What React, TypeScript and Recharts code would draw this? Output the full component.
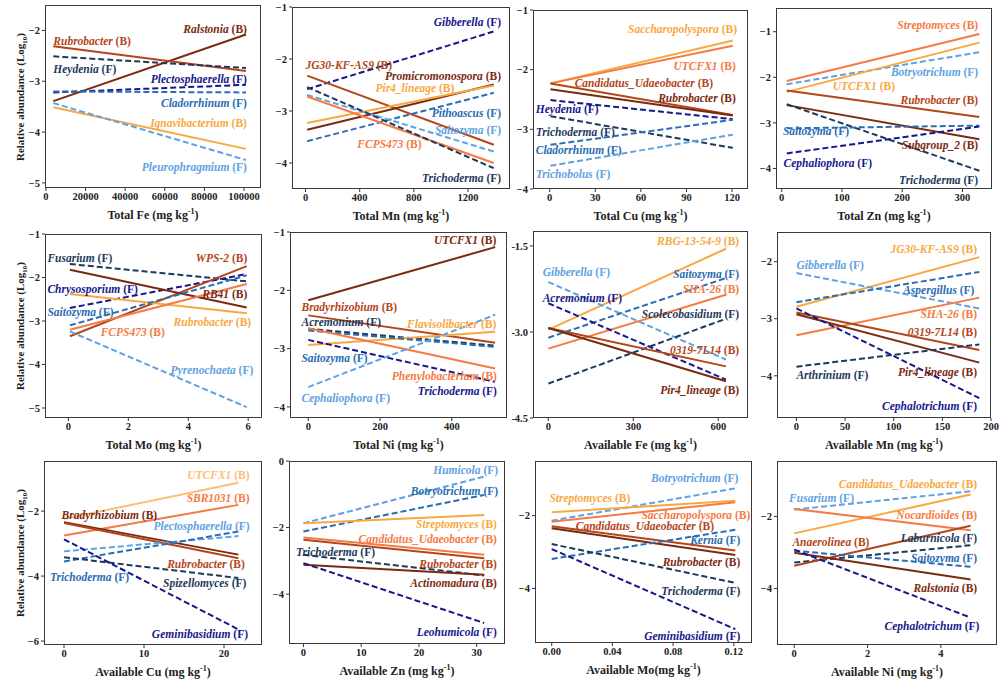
import React from "react";
import { LineChart, Line, XAxis, YAxis, ReferenceDot } from "recharts";

type Fit = { taxon: string; group: "B" | "F"; start: number; end: number };
// label anchor in data units: [x, y, text-anchor]
type Tag = [number, number, "start" | "end"];

const FONT = "'Liberation Serif', 'Times New Roman', serif";

const C: Record<string, string> = {
  brown: "#7a2a10",
  rust: "#b3461b",
  orange: "#f47b45",
  gold: "#f9a83f",
  peach: "#fcbf78",
  navy: "#18188c",
  slate: "#1d3a5c",
  blue: "#2a6db3",
  sky: "#5fa2e2",
};

// ---------- Total Fe ----------
const FE_X = [3700, 101000];
const FE_FITS: Fit[] = [
  { taxon: "Ralstonia", group: "B", start: -3.39, end: -2.08 },
  { taxon: "Rubrobacter", group: "B", start: -2.31, end: -2.8 },
  { taxon: "Heydenia", group: "F", start: -2.51, end: -2.74 },
  { taxon: "Plectosphaerella", group: "F", start: -3.22, end: -3.07 },
  { taxon: "Cladorrhinum", group: "F", start: -3.2, end: -3.22 },
  { taxon: "Ignavibacterium", group: "B", start: -3.51, end: -4.33 },
  { taxon: "Pleurophragmium", group: "F", start: -3.43, end: -4.55 },
];
const FE_TONES = ["brown", "rust", "slate", "navy", "blue", "gold", "sky"];
const FE_TAGS: Tag[] = [
  [101500, -1.98, "end"], [3700, -2.21, "start"], [3700, -2.76, "start"],
  [101500, -2.95, "end"], [101500, -3.43, "end"], [101500, -3.82, "end"], [101500, -4.68, "end"],
];

// ---------- Total Mn ----------
const MN_X = [12, 1390];
const MN_FITS: Fit[] = [
  { taxon: "Gibberella", group: "F", start: -2.58, end: -1.47 },
  { taxon: "JG30-KF-AS9", group: "B", start: -2.32, end: -3.65 },
  { taxon: "Promicromonospora", group: "B", start: -3.36, end: -2.49 },
  { taxon: "Pir4_lineage", group: "B", start: -3.23, end: -2.51 },
  { taxon: "Pithoascus", group: "F", start: -3.58, end: -2.65 },
  { taxon: "Saitozyma", group: "F", start: -2.69, end: -3.78 },
  { taxon: "FCPS473", group: "B", start: -2.72, end: -4.0 },
  { taxon: "Trichoderma", group: "F", start: -2.54, end: -4.1 },
];
const MN_TONES = ["navy", "rust", "brown", "gold", "blue", "sky", "orange", "slate"];
const MN_TAGS: Tag[] = [
  [1444, -1.29, "end"], [0, -2.11, "start"], [1444, -2.32, "end"], [1099, -2.56, "end"],
  [1444, -3.04, "end"], [1444, -3.36, "end"], [857, -3.63, "end"], [1444, -4.29, "end"],
];

// ---------- Total Cu ----------
const CU_X = [0.5, 120.5];
const CU_FITS: Fit[] = [
  { taxon: "Saccharopolyspora", group: "B", start: -2.23, end: -1.51 },
  { taxon: "UTCFX1", group: "B", start: -2.23, end: -1.6 },
  { taxon: "Candidatus_Udaeobacter", group: "B", start: -2.23, end: -2.76 },
  { taxon: "Rubrobacter", group: "B", start: -2.33, end: -2.77 },
  { taxon: "Heydenia", group: "F", start: -2.51, end: -2.83 },
  { taxon: "Trichoderma", group: "F", start: -2.78, end: -3.31 },
  { taxon: "Cladorrhinum", group: "F", start: -3.26, end: -2.84 },
  { taxon: "Trichobolus", group: "F", start: -3.61, end: -3.09 },
];
const CU_TONES = ["gold", "orange", "rust", "brown", "navy", "slate", "blue", "sky"];
const CU_TAGS: Tag[] = [
  [123.3, -1.32, "end"], [122.5, -1.94, "end"], [107.5, -2.22, "end"], [122.5, -2.48, "end"],
  [-9.2, -2.66, "start"], [-9.2, -3.04, "start"], [-9.2, -3.34, "start"], [-9.2, -3.74, "start"],
];

// ---------- Total Zn ----------
const ZN_X = [8.3, 328];
const ZN_FITS: Fit[] = [
  { taxon: "Streptomyces", group: "B", start: -2.08, end: -1.05 },
  { taxon: "Botryotrichum", group: "F", start: -2.15, end: -1.45 },
  { taxon: "UTCFX1", group: "B", start: -2.32, end: -1.24 },
  { taxon: "Rubrobacter", group: "B", start: -2.29, end: -2.87 },
  { taxon: "Subgroup_2", group: "B", start: -2.61, end: -3.36 },
  { taxon: "Trichoderma", group: "F", start: -2.59, end: -4.05 },
  { taxon: "Saitozyma", group: "F", start: -3.12, end: -3.06 },
  { taxon: "Cephaliophora", group: "F", start: -3.67, end: -3.08 },
];
const ZN_TONES = ["orange", "sky", "gold", "rust", "brown", "slate", "blue", "navy"];
const ZN_TAGS: Tag[] = [
  [326, -0.85, "end"], [326, -1.89, "end"], [188, -2.19, "end"], [326, -2.5, "end"],
  [326, -3.49, "end"], [326, -4.26, "end"], [2, -3.18, "start"], [3, -3.89, "start"],
];

// ---------- Total Mo ----------
const MO_X = [0.05, 5.95];
const MO_FITS: Fit[] = [
  { taxon: "Fusarium", group: "F", start: -1.69, end: -2.09 },
  { taxon: "Chrysosporium", group: "F", start: -2.7, end: -1.92 },
  { taxon: "WPS-2", group: "B", start: -3.35, end: -1.74 },
  { taxon: "RB41", group: "B", start: -1.82, end: -2.69 },
  { taxon: "Rubrobacter", group: "B", start: -2.38, end: -2.82 },
  { taxon: "Saitozyma", group: "F", start: -3.1, end: -1.95 },
  { taxon: "FCPS473", group: "B", start: -3.2, end: -2.15 },
  { taxon: "Pyrenochaeta", group: "F", start: -3.24, end: -4.98 },
];
const MO_TONES = ["slate", "navy", "rust", "brown", "gold", "blue", "orange", "sky"];
const MO_TAGS: Tag[] = [
  [-0.7, -1.55, "start"], [-0.7, -2.26, "start"], [5.97, -1.55, "end"], [5.97, -2.38, "end"],
  [6.1, -3.02, "end"], [-0.7, -2.79, "start"], [3.22, -3.25, "end"], [6.17, -4.12, "end"],
];

// ---------- Total Ni ----------
const NI_X = [0, 521];
const NI_FITS: Fit[] = [
  { taxon: "UTCFX1", group: "B", start: -2.17, end: -1.26 },
  { taxon: "Bradyrhizobium", group: "B", start: -2.43, end: -2.9 },
  { taxon: "Acremonium", group: "F", start: -2.66, end: -2.95 },
  { taxon: "Flavisolibacter", group: "B", start: -2.94, end: -2.71 },
  { taxon: "Saitozyma", group: "F", start: -2.69, end: -2.97 },
  { taxon: "Phenylobacterium", group: "B", start: -2.65, end: -3.34 },
  { taxon: "Trichoderma", group: "F", start: -2.85, end: -3.57 },
  { taxon: "Cephaliophora", group: "F", start: -3.66, end: -2.42 },
];
const NI_TONES = ["brown", "rust", "slate", "gold", "blue", "orange", "navy", "sky"];
const NI_TAGS: Tag[] = [
  [524, -1.14, "end"], [-19, -2.29, "start"], [-19, -2.55, "start"], [524, -2.58, "end"],
  [-19, -3.16, "start"], [526, -3.47, "end"], [526, -3.73, "end"], [-19, -3.85, "start"],
];

// ---------- Available Fe ----------
const AFE_X = [0, 627];
const AFE_FITS: Fit[] = [
  { taxon: "RBG-13-54-9", group: "B", start: -2.96, end: -1.55 },
  { taxon: "Gibberella", group: "F", start: -2.13, end: -3.48 },
  { taxon: "Saitozyma", group: "F", start: -3.1, end: -2.06 },
  { taxon: "SHA-26", group: "B", start: -3.29, end: -2.35 },
  { taxon: "Acremonium", group: "F", start: -2.5, end: -3.83 },
  { taxon: "Scolecobasidium", group: "F", start: -3.9, end: -2.77 },
  { taxon: "0319-7L14", group: "B", start: -2.93, end: -3.6 },
  { taxon: "Pir4_lineage", group: "B", start: -2.93, end: -3.86 },
];
const AFE_TONES = ["gold", "sky", "blue", "orange", "navy", "slate", "rust", "brown"];
const AFE_TAGS: Tag[] = [
  [674, -1.41, "end"], [-20, -1.96, "start"], [674, -1.99, "end"], [674, -2.25, "end"],
  [-20, -2.4, "start"], [674, -2.69, "end"], [674, -3.31, "end"], [674, -4.01, "end"],
];

// ---------- Available Mn ----------
const AMN_X = [0, 188];
const AMN_FITS: Fit[] = [
  { taxon: "JG30-KF-AS9", group: "B", start: -2.79, end: -1.92 },
  { taxon: "Gibberella", group: "F", start: -2.2, end: -2.82 },
  { taxon: "Aspergillus", group: "F", start: -2.71, end: -2.18 },
  { taxon: "SHA-26", group: "B", start: -3.29, end: -2.63 },
  { taxon: "0319-7L14", group: "B", start: -2.89, end: -3.55 },
  { taxon: "Pir4_lineage", group: "B", start: -2.92, end: -3.77 },
  { taxon: "Arthrinium", group: "F", start: -3.84, end: -3.45 },
  { taxon: "Cephalotrichum", group: "F", start: -2.82, end: -4.39 },
];
const AMN_TONES = ["gold", "sky", "blue", "orange", "rust", "brown", "slate", "navy"];
const AMN_TAGS: Tag[] = [
  [185.6, -1.77, "end"], [0, -2.06, "start"], [183, -2.49, "end"], [185.6, -2.92, "end"],
  [185.6, -3.23, "end"], [185.6, -3.94, "end"], [0, -3.99, "start"], [185.6, -4.53, "end"],
];

// ---------- Available Cu ----------
const ACU_X = [0, 21.8];
const ACU_FITS: Fit[] = [
  { taxon: "UTCFX1", group: "B", start: -2.24, end: -1.13 },
  { taxon: "SBR1031", group: "B", start: -2.75, end: -1.81 },
  { taxon: "Bradyrhizobium", group: "B", start: -2.34, end: -3.34 },
  { taxon: "Rubrobacter", group: "B", start: -2.37, end: -3.45 },
  { taxon: "Plectosphaerella", group: "F", start: -3.24, end: -2.77 },
  { taxon: "Trichoderma", group: "F", start: -3.55, end: -2.63 },
  { taxon: "Spizellomyces", group: "F", start: -3.42, end: -4.06 },
  { taxon: "Geminibasidium", group: "F", start: -2.87, end: -5.64 },
];
const ACU_TONES = ["peach", "orange", "brown", "rust", "sky", "blue", "slate", "navy"];
const ACU_TAGS: Tag[] = [
  [23.2, -0.88, "end"], [23.2, -1.6, "end"], [-0.3, -2.11, "start"], [22.6, -3.62, "end"],
  [23.2, -2.47, "end"], [-1.75, -4.03, "start"], [22.8, -4.22, "end"], [23.0, -5.79, "end"],
];

// ---------- Available Zn ----------
const AZN_X = [0, 31.3];
const AZN_FITS: Fit[] = [
  { taxon: "Humicola", group: "F", start: -1.87, end: -0.47 },
  { taxon: "Botryotrichum", group: "F", start: -2.12, end: -1.02 },
  { taxon: "Streptomyces", group: "B", start: -1.87, end: -1.62 },
  { taxon: "Candidatus_Udaeobacter", group: "B", start: -2.3, end: -2.82 },
  { taxon: "Rubrobacter", group: "B", start: -2.37, end: -2.92 },
  { taxon: "Trichoderma", group: "F", start: -2.82, end: -3.44 },
  { taxon: "Actinomadura", group: "B", start: -3.12, end: -3.42 },
  { taxon: "Leohumicola", group: "F", start: -3.07, end: -4.87 },
];
const AZN_TONES = ["sky", "blue", "gold", "orange", "rust", "slate", "brown", "navy"];
const AZN_TAGS: Tag[] = [
  [33.7, -0.27, "end"], [33.7, -0.9, "end"], [33.5, -1.9, "end"], [33.5, -2.34, "end"],
  [33.5, -3.1, "end"], [-1.3, -2.72, "start"], [33.5, -3.67, "end"], [33.5, -5.14, "end"],
];

// ---------- Available Mo ----------
const AMO_X = [0, 0.121];
const AMO_FITS: Fit[] = [
  { taxon: "Botryotrichum", group: "F", start: -2.14, end: -1.25 },
  { taxon: "Streptomyces", group: "B", start: -1.91, end: -1.59 },
  { taxon: "Saccharopolyspora", group: "B", start: -2.17, end: -1.63 },
  { taxon: "Candidatus_Udaeobacter", group: "B", start: -2.29, end: -2.96 },
  { taxon: "Rubrobacter", group: "B", start: -2.35, end: -3.08 },
  { taxon: "Kernia", group: "F", start: -3.19, end: -2.39 },
  { taxon: "Trichoderma", group: "F", start: -2.78, end: -3.85 },
  { taxon: "Geminibasidium", group: "F", start: -2.92, end: -5.12 },
];
const AMO_TONES = ["sky", "gold", "orange", "rust", "brown", "blue", "slate", "navy"];
const AMO_TAGS: Tag[] = [
  [0.123, -0.97, "end"], [-0.0015, -1.52, "start"], [0.1309, -1.98, "end"], [0.107, -2.28, "end"],
  [0.1243, -3.27, "end"], [0.1243, -2.66, "end"], [0.1243, -4.06, "end"], [0.1243, -5.3, "end"],
];

// ---------- Available Ni ----------
const ANI_X = [0, 4.81];
const ANI_FITS: Fit[] = [
  { taxon: "Candidatus_Udaeobacter", group: "B", start: -2.47, end: -1.39 },
  { taxon: "Fusarium", group: "F", start: -1.81, end: -1.3 },
  { taxon: "Nocardioides", group: "B", start: -1.79, end: -2.38 },
  { taxon: "Laburnicola", group: "F", start: -3.28, end: -2.8 },
  { taxon: "Anaerolinea", group: "B", start: -3.37, end: -2.26 },
  { taxon: "Saitozyma", group: "F", start: -2.95, end: -3.4 },
  { taxon: "Ralstonia", group: "B", start: -3.01, end: -3.75 },
  { taxon: "Cephalotrichum", group: "F", start: -2.92, end: -4.81 },
];
const ANI_TONES = ["gold", "sky", "orange", "slate", "rust", "blue", "brown", "navy"];
const ANI_TAGS: Tag[] = [
  [4.99, -1.09, "end"], [-0.14, -1.48, "start"], [4.99, -1.95, "end"], [4.99, -2.59, "end"],
  [-0.05, -2.71, "start"], [4.99, -3.16, "end"], [4.99, -3.98, "end"], [5.05, -5.04, "end"],
];

const minus = (v: number) => (v < 0 ? "\u2212" : "") + Math.abs(v);

// minor ticks halfway between the major ones, kept inside the domain
const minorTicks = (ticks: number[], dom: number[]) => {
  const half = (ticks[1] - ticks[0]) / 2;
  const eps = Math.abs(half) * 0.05;
  const out: number[] = [];
  for (let k = -30; k <= 30; k++) {
    const v = ticks[0] + (2 * k + 1) * half;
    if (v > dom[0] + eps && v < dom[1] - eps) out.push(v);
  }
  return out;
};

type Panel = {
  title: string; gap?: boolean;
  fits: Fit[]; tones: string[]; tags: Tag[]; fitX: number[];
  xDomain: number[]; xTicks: number[]; yDomain: number[]; yTicks: number[];
  frame: number[]; // left, top, right, bottom in page px
  fmtX?: (v: number) => string; fmtY?: (v: number) => string;
};

const PANELS: Panel[] = [
  { title: "Total Fe", fits: FE_FITS, tones: FE_TONES, tags: FE_TAGS, fitX: FE_X,
    xDomain: [-500, 108600], xTicks: [0, 20000, 40000, 60000, 80000, 100000],
    yDomain: [-5.1, -1.5], yTicks: [-5, -4, -3, -2], frame: [45, 5, 261, 188] },
  { title: "Total Mn", fits: MN_FITS, tones: MN_TONES, tags: MN_TAGS, fitX: MN_X,
    xDomain: [-100, 1510], xTicks: [0, 400, 800, 1200],
    yDomain: [-4.5, -1], yTicks: [-4, -3, -2, -1], frame: [292, 7, 510, 189] },
  { title: "Total Cu", fits: CU_FITS, tones: CU_TONES, tags: CU_TAGS, fitX: CU_X,
    xDomain: [-11, 130.5], xTicks: [0, 30, 60, 90, 120],
    yDomain: [-4, -1], yTicks: [-4, -3, -2, -1], frame: [533, 10, 748, 189] },
  { title: "Total Zn", fits: ZN_FITS, tones: ZN_TONES, tags: ZN_TAGS, fitX: ZN_X,
    xDomain: [-9.5, 349], xTicks: [0, 100, 200, 300],
    yDomain: [-4.45, -0.48], yTicks: [-4, -3, -2, -1], frame: [776, 8, 992, 189] },
  { title: "Total Mo", fits: MO_FITS, tones: MO_TONES, tags: MO_TAGS, fitX: MO_X,
    xDomain: [-0.78, 6.46], xTicks: [0, 2, 4, 6],
    yDomain: [-5.23, -1], yTicks: [-5, -4, -3, -2, -1], frame: [45, 234, 262, 418] },
  { title: "Total Ni", fits: NI_FITS, tones: NI_TONES, tags: NI_TAGS, fitX: NI_X,
    xDomain: [-51, 554], xTicks: [0, 200, 400],
    yDomain: [-4.19, -1], yTicks: [-4, -3, -2, -1], frame: [290, 232, 507, 418] },
  { title: "Available Fe", fits: AFE_FITS, tones: AFE_TONES, tags: AFE_TAGS, fitX: AFE_X,
    xDomain: [-54, 705], xTicks: [0, 300, 600],
    yDomain: [-4.5, -1.24], yTicks: [-4.5, -3, -1.5], frame: [533, 231, 748, 418],
    fmtY: (v) => v.toFixed(1) },
  { title: "Available Mn", fits: AMN_FITS, tones: AMN_TONES, tags: AMN_TAGS, fitX: AMN_X,
    xDomain: [-20, 200], xTicks: [0, 50, 100, 150, 200],
    yDomain: [-4.74, -1.48], yTicks: [-4, -3, -2], frame: [777, 232, 991, 418] },
  { title: "Available Cu", fits: ACU_FITS, tones: ACU_TONES, tags: ACU_TAGS, fitX: ACU_X,
    xDomain: [-2.5, 24.75], xTicks: [0, 10, 20],
    yDomain: [-6.12, -0.46], yTicks: [-6, -4, -2], frame: [44, 461, 262, 645] },
  { title: "Available Zn", fits: AZN_FITS, tones: AZN_TONES, tags: AZN_TAGS, fitX: AZN_X,
    xDomain: [-2.5, 34.9], xTicks: [0, 10, 20, 30],
    yDomain: [-5.5, 0], yTicks: [-4, -2, 0], frame: [289, 461, 505, 644] },
  { title: "Available Mo", gap: true, fits: AMO_FITS, tones: AMO_TONES, tags: AMO_TAGS, fitX: AMO_X,
    xDomain: [-0.011, 0.132], xTicks: [0, 0.04, 0.08, 0.12],
    yDomain: [-5.5, -0.5], yTicks: [-4, -2], frame: [535, 461, 752, 643],
    fmtX: (v) => v.toFixed(2) },
  { title: "Available Ni", fits: ANI_FITS, tones: ANI_TONES, tags: ANI_TAGS, fitX: ANI_X,
    xDomain: [-0.47, 5.53], xTicks: [0, 2, 4],
    yDomain: [-5.57, -0.46], yTicks: [-4, -2], frame: [777, 461, 997, 645] },
];

const TagText = (props: any) => {
  const vb = props.viewBox || {};
  const x = (vb.x ?? vb.cx ?? 0) + (vb.width || 0) / 2;
  const y = (vb.y ?? vb.cy ?? 0) + (vb.height || 0) / 2;
  return (
    <text x={x} y={y} dy="0.35em" textAnchor={props.anchor} fill={props.color}
      fontFamily={FONT} fontWeight="bold" fontSize={11.5}>
      <tspan fontStyle="italic">{props.name}</tspan>
      <tspan>{` (${props.group})`}</tspan>
    </text>
  );
};

const YW = 34;
const XH = 26;
const TOP = 6;
const RIGHT = 16;

const tickStyle = { fill: "#222", fontSize: 10.5, fontWeight: "bold", fontFamily: FONT };

const PanelChart: React.FC<{ p: Panel }> = ({ p }) => {
  const [l, t, r, b] = p.frame;
  const w = r - l;
  const h = b - t;
  return (
    <>
      <div style={{ position: "absolute", left: l - YW, top: t - TOP }}>
        <LineChart width={w + YW + RIGHT} height={h + TOP + XH}
          margin={{ top: TOP, right: RIGHT, bottom: 0, left: 0 }}>
          <XAxis type="number" dataKey="x" domain={p.xDomain} ticks={p.xTicks} allowDataOverflow
            interval={0} axisLine={false} tickLine={{ stroke: "#333" }} tickSize={3} tickMargin={2}
            height={XH} tick={tickStyle} tickFormatter={p.fmtX || ((v: number) => String(v))} />
          <YAxis type="number" domain={p.yDomain} ticks={p.yTicks} allowDataOverflow
            interval={0} axisLine={false} tickLine={{ stroke: "#333" }} tickSize={3} tickMargin={2}
            width={YW} tick={tickStyle} tickFormatter={p.fmtY || minus} />
          <XAxis xAxisId="minor" mirror type="number" domain={p.xDomain}
            ticks={minorTicks(p.xTicks, p.xDomain)} allowDataOverflow interval={0}
            axisLine={false} tick={false} tickLine={{ stroke: "#333" }} tickSize={2.5} height={4} />
          <YAxis yAxisId="minor" mirror type="number" domain={p.yDomain}
            ticks={minorTicks(p.yTicks, p.yDomain)} allowDataOverflow interval={0}
            axisLine={false} tick={false} tickLine={{ stroke: "#333" }} tickSize={2.5} width={4} />
          {p.fits.map((f, i) => (
            <Line key={f.taxon + i} type="linear" dataKey="y"
              data={[{ x: p.fitX[0], y: f.start }, { x: p.fitX[1], y: f.end }]}
              stroke={C[p.tones[i]]} strokeWidth={2}
              strokeDasharray={f.group === "F" ? "6 3" : undefined}
              dot={false} activeDot={false} isAnimationActive={false} />
          ))}
          {p.tags.map((tg, i) => (
            <ReferenceDot key={"tag" + i} x={tg[0]} y={tg[1]} r={0} ifOverflow="visible"
              fill="none" stroke="none"
              label={<TagText name={p.fits[i].taxon} group={p.fits[i].group}
                color={C[p.tones[i]]} anchor={tg[2]} />} />
          ))}
        </LineChart>
      </div>
      <div style={{ position: "absolute", left: l, top: t, width: w, height: h,
        border: "1.5px solid #3a3a3a", boxSizing: "border-box", pointerEvents: "none" }} />
      <div style={{ position: "absolute", left: (l + r) / 2 - 110, width: 220, top: b + 20,
        textAlign: "center", fontFamily: FONT, fontWeight: "bold", fontSize: 12,
        lineHeight: "14px", color: "#222" }}>
        {p.title}{p.gap ? "" : " "}(mg kg<sup style={{ fontSize: 8, lineHeight: 0 }}>-1</sup>)
      </div>
    </>
  );
};

const YTitle: React.FC<{ cy: number }> = ({ cy }) => (
  <div style={{ position: "absolute", left: 20 - 90, top: cy - 7, width: 180, textAlign: "center",
    transform: "rotate(-90deg)", fontFamily: FONT, fontWeight: "bold", fontSize: 11,
    lineHeight: "14px", color: "#222" }}>
    Relative abundance (Log<sub style={{ fontSize: 7, lineHeight: 0 }}>10</sub>)
  </div>
);

export default function App() {
  return (
    <div style={{ position: "absolute", left: 0, top: 0, width: 1006, height: 682, background: "#fff" }}>
      {PANELS.map((p) => <PanelChart key={p.title} p={p} />)}
      <YTitle cy={97} />
      <YTitle cy={326} />
      <YTitle cy={553} />
    </div>
  );
}
